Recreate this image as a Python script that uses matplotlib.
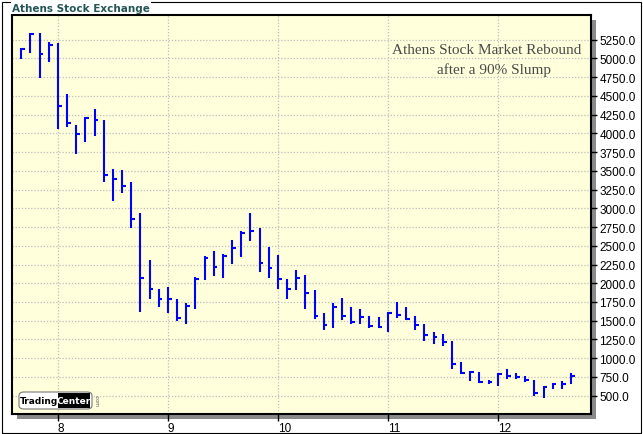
import numpy as np
import pandas as pd
import matplotlib
matplotlib.use('Agg')
import matplotlib.pyplot as plt
from matplotlib.patches import Rectangle, FancyBboxPatch

# monthly bars, Sep 2007 .. Sep 2012
months = pd.period_range('2007-09', '2012-09', freq='M')

highs = [5135, 5335, 5335, 5215,
         5206, 4521, 4112, 4214, 4325, 4182, 3520, 3511, 3351, 2937, 2310, 1923,
         1950, 1790, 1732, 2083, 2359, 2430, 2386, 2573, 2697, 2937, 2737, 2483,
         2377, 2057, 2177, 2110, 1910, 1603, 1736, 1803, 1683, 1656, 1563, 1550,
         1612, 1750, 1683, 1563, 1456, 1349, 1318, 1229, 948, 825, 820, 713,
         802, 855, 802, 767, 713, 624, 669, 695, 802]
lows = [4997, 5077, 4735, 4956,
        4062, 4089, 3729, 3889, 3969, 3355, 3101, 3200, 2741, 1620, 1794, 1687,
        1607, 1500, 1460, 1660, 2047, 2100, 2074, 2261, 2354, 2568, 2154, 2074,
        1927, 1794, 1914, 1660, 1527, 1380, 1407, 1514, 1452, 1452, 1398, 1398,
        1354, 1536, 1514, 1380, 1229, 1193, 1162, 860, 789, 699, 665, 651,
        633, 722, 722, 686, 491, 473, 589, 593, 651]
closes = [5126, 5330, 5059, 5179,
          4361, 4134, 3988, 4210, 4178, 3444, 3395, 3298, 2857, 2066, 1923, 1790,
          1790, 1536, 1692, 2053, 2333, 2213, 2364, 2466, 2674, 2693, 2270, 2199,
          2057, 1923, 2066, 1866, 1559, 1439, 1683, 1559, 1479, 1550, 1425, 1420,
          1603, 1580, 1523, 1443, 1305, 1278, 1211, 926, 802, 812, 678, 678,
          793, 758, 749, 713, 531, 615, 660, 660, 767]

year_ticks = [8, 9, 10, 11, 12]
price_ticks = np.arange(500, 5251, 250)

W, H = 643, 435
fig = plt.figure(figsize=(W / 100, H / 100), dpi=100)
fig.patch.set_facecolor('white')

# axes box in pixel coords (left, top, right, bottom)
L, T, R, B = 12, 16, 591, 415
ax = fig.add_axes([L / W, 1 - B / H, (R - L) / W, (B - T) / H])
ax.set_facecolor('#ffffdc')

# drop shadow behind plot area
fig.add_artist(Rectangle(((L + 5) / W, 1 - (B + 5) / H), (R - L) / W, (B - T) / H,
                         transform=fig.transFigure, facecolor='#8a8a8a',
                         edgecolor='none', zorder=-1))
# outer frame
fig.add_artist(Rectangle((1.5 / W, 1.5 / H), 639 / W, 431 / H,
                         transform=fig.transFigure, fill=False,
                         edgecolor='black', lw=0.8, zorder=-2))

x = np.array([p.year - 2000 + (p.month - 1) / 12 for p in months])
ax.vlines(x, lows, highs, color='#0000ff', lw=1.5, zorder=3)
ax.hlines(closes, x, x + 0.034, color='#0000ff', lw=1.5, zorder=3)

ax.set_xlim(7.582, 12.848)
ax.set_ylim(255, 5580)

ax.set_xticks(year_ticks)
ax.set_xticklabels([str(t) for t in year_ticks], ha='left')
ax.set_yticks(price_ticks)
ax.set_yticklabels(['%.1f' % v for v in price_ticks])
ax.yaxis.tick_right()
ax.tick_params(axis='y', direction='out', length=4, width=1, pad=2,
               labelsize=8.5)
ax.tick_params(axis='x', direction='out', length=5, width=1, pad=1,
               labelsize=8.5)
for lab in ax.get_xticklabels() + ax.get_yticklabels():
    lab.set_fontfamily(['Liberation Sans', 'DejaVu Sans'])

ax.grid(True, color='#bdbdbd', lw=0.9, linestyle=(0, (1, 1.5)), zorder=1)
ax.set_axisbelow(True)
for s in ax.spines.values():
    s.set_linewidth(1.5)
    s.set_color('black')

# chart title, top left (white box hides the frame line behind it)
fig.text(12 / W, 1 - 8.5 / H, 'Athens Stock Exchange', ha='left', va='center',
         fontsize=7.5, fontweight='heavy', color='#245656', family='DejaVu Sans',
         bbox=dict(facecolor='white', edgecolor='none', pad=1))

# annotation
fig.text(486.5 / W, 1 - 50 / H, 'Athens Stock Market Rebound', ha='center',
         va='center', fontsize=11, color='#4a4a4a', family='Liberation Serif')
fig.text(494 / W, 1 - 70 / H, 'after a 90% Slump', ha='center',
         va='center', fontsize=11, color='#4a4a4a', family='Liberation Serif')

# TradingCenter logo
fig.add_artist(FancyBboxPatch((19 / W, 1 - 410 / H), 73 / W, 17 / H,
                              boxstyle='round,pad=0,rounding_size=0.008',
                              transform=fig.transFigure, facecolor='white',
                              edgecolor='#777777', lw=0.8, zorder=4))
fig.add_artist(Rectangle((58 / W, 1 - 409 / H), 32 / W, 15 / H,
                         transform=fig.transFigure, facecolor='black',
                         edgecolor='none', zorder=5))
fig.text(38.5 / W, 1 - 401.5 / H, 'Trading', ha='center', va='center',
         fontsize=6.5, fontweight='bold', color='black', zorder=6,
         family='DejaVu Sans')
fig.text(74 / W, 1 - 401.5 / H, 'Center', ha='center', va='center',
         fontsize=6.5, fontweight='bold', color='white', zorder=6,
         family='DejaVu Sans')
fig.text(95.5 / W, 1 - 401 / H, '.com', ha='center', va='center', rotation=-90,
         fontsize=3.5, color='#555555', zorder=6)

fig.savefig('out.png', dpi=100)
